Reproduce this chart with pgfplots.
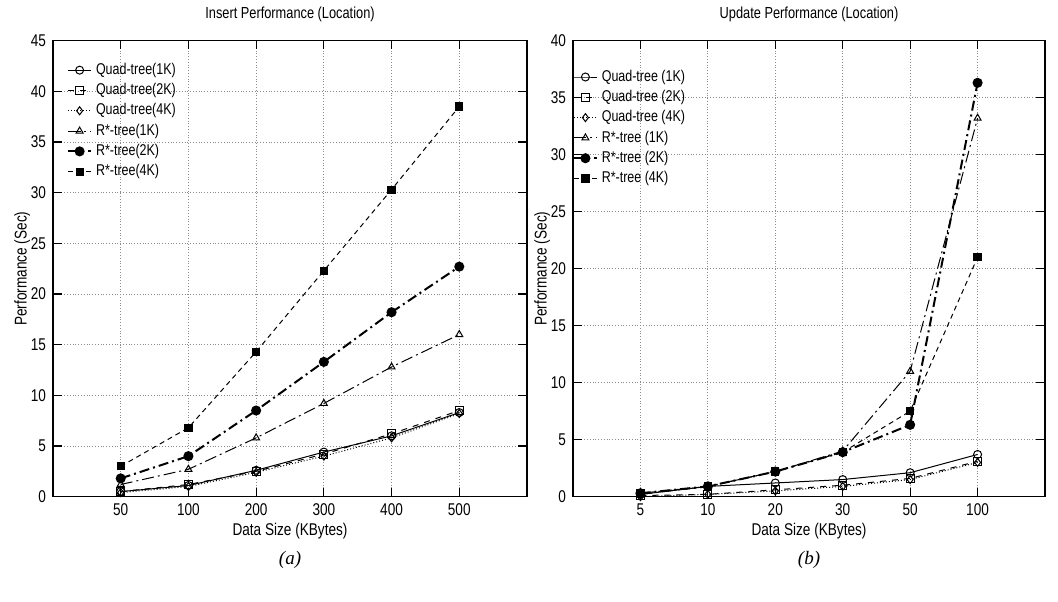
\documentclass[border=0pt]{standalone}
\usepackage{fontspec}
\setmainfont{Liberation Sans}[FakeStretch=0.8]
\newfontfamily\capfont{Liberation Serif}
\usepackage{pgfplots}
\pgfplotsset{compat=1.18}

\pgfplotsset{
  perfstyle/.style={
    scale only axis,
    height=228pt,
    anchor=south west,
    xmin=0, xmax=7,
    xtick={1,2,3,4,5,6},
    ymin=0,
    grid=major,
    major grid style={densely dotted, black!45},
    axis line style={line width=0.8pt},
    tick style={black, line width=0.6pt},
    /pgf/number format/assume math mode=true,
    tick label style={font=\fontsize{8.5}{9}\selectfont},
    label style={font=\fontsize{8.5}{9}\selectfont},
    title style={font=\fontsize{8}{9}\selectfont},
    xlabel={Data Size (KBytes)},
    ylabel={Performance (Sec)},
    ylabel shift=-6.5pt,
    xlabel style={yshift=3pt},
    legend cell align=left,
    legend style={draw=none, fill=none, anchor=north west,
      font=\fontsize{7.8}{9}\selectfont, row sep=-1pt,
      inner sep=1pt},
    legend image code/.code={%
      \draw[mark repeat=2,mark phase=2] plot coordinates {(0cm,0cm) (0.2cm,0cm) (0.4cm,0cm)};},
    every axis plot/.append style={black, mark size=2pt, line width=0.5pt},
  },
  q1/.style={solid, mark=o, mark options={solid, fill=white}},
  q2/.style={dashed, mark=square, mark options={solid, fill=white}},
  q3/.style={densely dotted, mark=diamond, mark options={solid, fill=white}},
  r1/.style={dash pattern=on 6pt off 2pt on 1pt off 2pt, mark=triangle, mark options={solid, fill=white}},
  r2/.style={line width=1pt, dash pattern=on 5pt off 2pt on 1pt off 2pt, mark=*, mark options={solid}},
  r3/.style={dash pattern=on 2.5pt off 2pt, mark=square*, mark options={solid}, mark size=1.8pt},
}

\begin{document}
\begin{tikzpicture}
\path (0pt,0pt) rectangle (529pt,297.5pt);

% (a) insert
\begin{axis}[perfstyle, at={(26.5pt,52.5pt)}, width=237pt,
  ymax=45, ytick={0,5,...,45},
  xticklabels={50,100,200,300,400,500},
  title={Insert Performance (Location)},
  legend style={at={(0.025,0.965)}}]
\addplot[q1] coordinates {(1,0.5) (2,1.1) (3,2.6) (4,4.4) (5,6.0) (6,8.3)};
\addplot[q2] coordinates {(1,0.5) (2,1.2) (3,2.5) (4,4.2) (5,6.2) (6,8.5)};
\addplot[q3] coordinates {(1,0.4) (2,1.0) (3,2.4) (4,4.0) (5,5.8) (6,8.2)};
\addplot[r1] coordinates {(1,1.2) (2,2.7) (3,5.8) (4,9.2) (5,12.8) (6,16.0)};
\addplot[r2] coordinates {(1,1.8) (2,4.0) (3,8.5) (4,13.3) (5,18.2) (6,22.7)};
\addplot[r3] coordinates {(1,3.0) (2,6.8) (3,14.3) (4,22.3) (5,30.3) (6,38.5)};
\legend{Quad-tree(1K), Quad-tree(2K), Quad-tree(4K), R*-tree(1K), R*-tree(2K), R*-tree(4K)}
\end{axis}

% (b) update
\begin{axis}[perfstyle, at={(286.5pt,52.5pt)}, width=236pt,
  ymax=40, ytick={0,5,...,40},
  xticklabels={5,10,20,30,50,100},
  title={Update Performance (Location)},
  legend style={at={(-0.005,0.95)}}]
\addplot[q1] coordinates {(1,0.2) (2,0.9) (3,1.2) (4,1.5) (5,2.1) (6,3.7)};
\addplot[q2] coordinates {(1,0.1) (2,0.2) (3,0.6) (4,1.0) (5,1.6) (6,3.1)};
\addplot[q3] coordinates {(1,0.0) (2,0.2) (3,0.5) (4,0.9) (5,1.5) (6,3.0)};
\addplot[r1] coordinates {(1,0.2) (2,0.9) (3,2.2) (4,4.0) (5,11.0) (6,33.2)};
\addplot[r2] coordinates {(1,0.3) (2,0.9) (3,2.2) (4,3.9) (5,6.3) (6,36.3)};
\addplot[r3] coordinates {(1,0.3) (2,0.9) (3,2.2) (4,3.9) (5,7.5) (6,21.0)};
\legend{Quad-tree (1K), Quad-tree (2K), Quad-tree (4K), R*-tree (1K), R*-tree (2K), R*-tree (4K)}
\end{axis}

\node[font=\capfont\itshape\fontsize{9.5}{11}\selectfont] at (145pt,21pt) {(\textit{a})};
\node[font=\capfont\itshape\fontsize{9.5}{11}\selectfont] at (404.5pt,21pt) {(\textit{b})};
\end{tikzpicture}
\end{document}
